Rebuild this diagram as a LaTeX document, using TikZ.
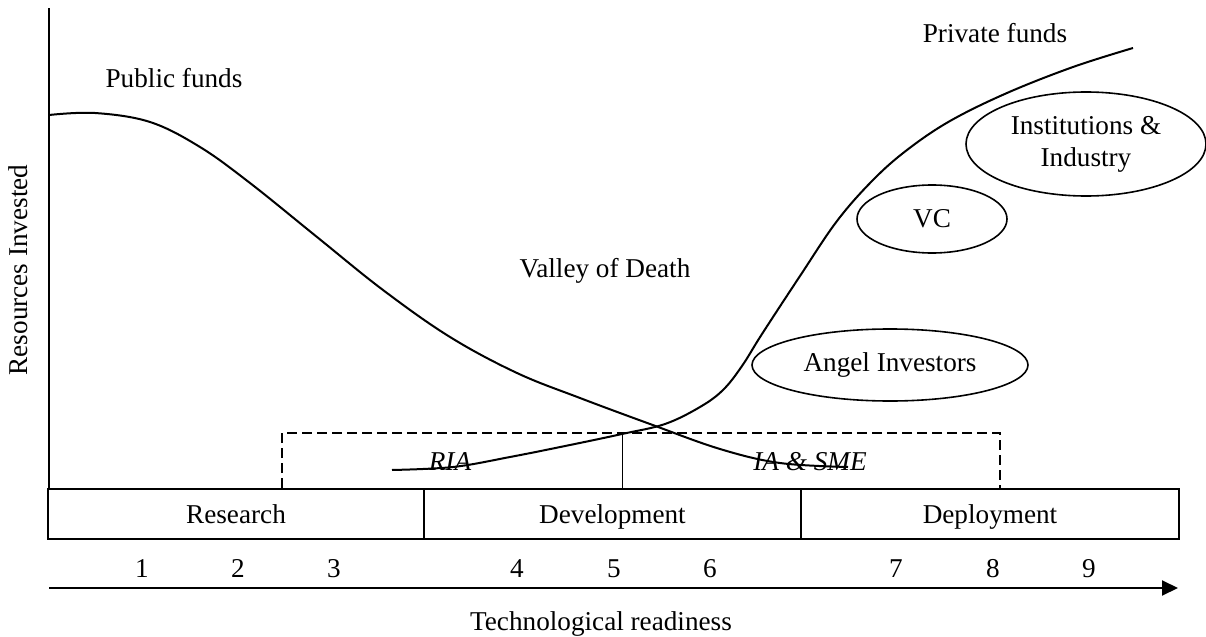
\documentclass[tikz,border=0pt]{standalone}
\usepackage{fontspec}
\setmainfont{Liberation Serif}
\usetikzlibrary{arrows.meta,shapes.geometric}
\begin{document}
\begin{tikzpicture}[x=0.5pt,y=-0.5pt,
  every node/.style={font=\fontsize{13.6}{16}\selectfont},
  curve/.style={line width=1pt},
  axisline/.style={line width=1pt},
  phasebox/.style={draw,line width=1.2pt,minimum height=25pt,inner sep=0pt,text height=11pt,text depth=2pt},
  fundbox/.style={draw,line width=0.8pt,ellipse,inner sep=0pt,align=center},
  dashedbox/.style={line width=0.6pt,dash pattern=on 5pt off 2.5pt},
  label/.style={inner sep=0pt,text height=11pt,text depth=2pt},
  itlabel/.style={label,font=\fontsize{13.6}{16}\selectfont\itshape}]
\useasboundingbox (0,0) rectangle (1206,637);
% axes
\coordinate (ytop) at (49,8);
\coordinate (ybot) at (49,488);
\draw[axisline] (ytop) -- (ybot);
\coordinate (xl) at (49,588);
\coordinate (xr) at (1178,588);
\draw[axisline,-{Triangle[length=8pt,width=7.5pt]}] (xl) -- (xr);
% dashed funding boxes
\draw[dashedbox] (282,488) |- (1000,433) -- (1000,488);
\draw[line width=0.5pt] (622,433) -- (622,488);
% curves
\draw[curve] plot[smooth,tension=0.6] coordinates {(49,115) (95,113) (150,122) (200,147) (250,183) (317,237) (383,290) (450,337) (517,373) (580,398) (650,424) (720,449) (780,463) (848,467)};
\draw[curve] plot[smooth,tension=0.6] coordinates {(392,470) (453,467) (510,457) (570,445) (622,434) (665,424) (700,407) (723,390) (742,366) (762,334) (800,276) (837,221) (873,180) (907,150) (950,121) (1007,93) (1073,67) (1133,48)};
% phase boxes
\node[phasebox,minimum width=188pt] (research) at (236,514) {Research};
\node[phasebox,minimum width=188.5pt] (development) at (612.5,514) {Development};
\node[phasebox,minimum width=189pt] (deployment) at (990,514) {Deployment};
% numbers
\node[label] (n1) at (142,568) {1};
\node[label] (n2) at (238,568) {2};
\node[label] (n3) at (334,568) {3};
\node[label] (n4) at (517,568) {4};
\node[label] (n5) at (614,568) {5};
\node[label] (n6) at (710,568) {6};
\node[label] (n7) at (896,568) {7};
\node[label] (n8) at (993,568) {8};
\node[label] (n9) at (1089,568) {9};
% labels
\node[label] (xlab) at (601,621) {Technological readiness};
\node[label,rotate=90] (ylab) at (18,270) {Resources Invested};
\node[label] (pub) at (174,78) {Public funds};
\node[label] (priv) at (995,33) {Private funds};
\node[label] (valley) at (605,268) {Valley of Death};
\node[itlabel] (ria) at (450,461) {RIA};
\node[itlabel] (iasme) at (810,461) {IA \& SME};
% ellipses
\node[fundbox,minimum width=120pt,minimum height=52pt] (inst) at (1086,144) {Institutions \&\\Industry};
\node[fundbox,minimum width=75pt,minimum height=34pt] (vc) at (932,219) {VC};
\node[fundbox,minimum width=138pt,minimum height=36pt] (angel) at (890,365) {Angel Investors};
\end{tikzpicture}
\end{document}
